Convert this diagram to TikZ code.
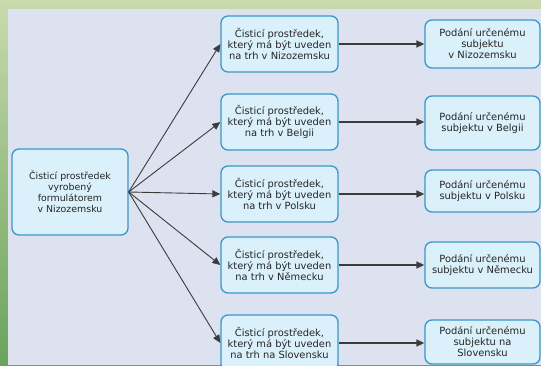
\documentclass[tikz,border=0pt]{standalone}
\usepackage{fontspec}
\setmainfont{DejaVu Sans}
\usetikzlibrary{arrows.meta}
\definecolor{panel}{HTML}{DCE2EF}
\definecolor{boxfill}{HTML}{DAF0FA}
\definecolor{boxline}{HTML}{3A98C8}
\definecolor{arrowc}{HTML}{3C3C3C}
\definecolor{greenlight}{HTML}{C9DAAC}
\definecolor{greendark}{HTML}{6AA45C}
\begin{document}
\begin{tikzpicture}[x=1pt,y=-1pt,
  box/.style={draw=boxline, fill=boxfill, line width=1.3pt, rounded corners=7pt,
    align=center, font=\fontsize{9.9}{11}\selectfont, inner sep=0pt, text=black!85},
  mid/.style={box, minimum width=117pt, minimum height=56pt},
  rgt/.style={box, minimum width=115pt},
  conn/.style={draw=arrowc, line width=0.9pt, -{Triangle[length=8pt,width=7pt]}},
  hconn/.style={conn, line width=1.4pt},
]
\useasboundingbox (0,0) rectangle (541,365);
\shade[top color=greenlight, bottom color=greendark] (0,0) rectangle (541,365);
\fill[panel] (8,9) rectangle (541,365);

\node[box, minimum width=116pt, minimum height=86pt, font=\fontsize{9.4}{11}\selectfont] (l) at (70,192)
  {Čisticí prostředek\\vyrobený\\formulátorem\\v Nizozemsku};

\node[mid] (m1) at (279.5,44)  {Čisticí prostředek,\\který má být uveden\\na trh v Nizozemsku};
\node[mid] (m2) at (279.5,122) {Čisticí prostředek,\\který má být uveden\\na trh v Belgii};
\node[mid] (m3) at (279.5,194) {Čisticí prostředek,\\který má být uveden\\na trh v Polsku};
\node[mid] (m4) at (279.5,265) {Čisticí prostředek,\\který má být uveden\\na trh v Německu};
\node[mid] (m5) at (279.5,343) {Čisticí prostředek,\\který má být uveden\\na trh na Slovensku};

\node[rgt, minimum height=48pt] (r1) at (482.5,44)  {Podání určenému\\subjektu\\v Nizozemsku};
\node[rgt, minimum height=54pt] (r2) at (482.5,123) {Podání určenému\\subjektu v Belgii};
\node[rgt, minimum height=42pt] (r3) at (482.5,191) {Podání určenému\\subjektu v Polsku};
\node[rgt, minimum height=46pt] (r4) at (482.5,265) {Podání určenému\\subjektu v Německu};
\node[rgt, minimum height=44pt] (r5) at (482.5,342) {Podání určenému\\subjektu na\\Slovensku};

\foreach \i in {1,...,5}{
  \draw[conn] (l.east) -- (m\i.west);
  \draw[hconn] (m\i.east) -- (m\i.east -| r\i.west);
}
\end{tikzpicture}
\end{document}
